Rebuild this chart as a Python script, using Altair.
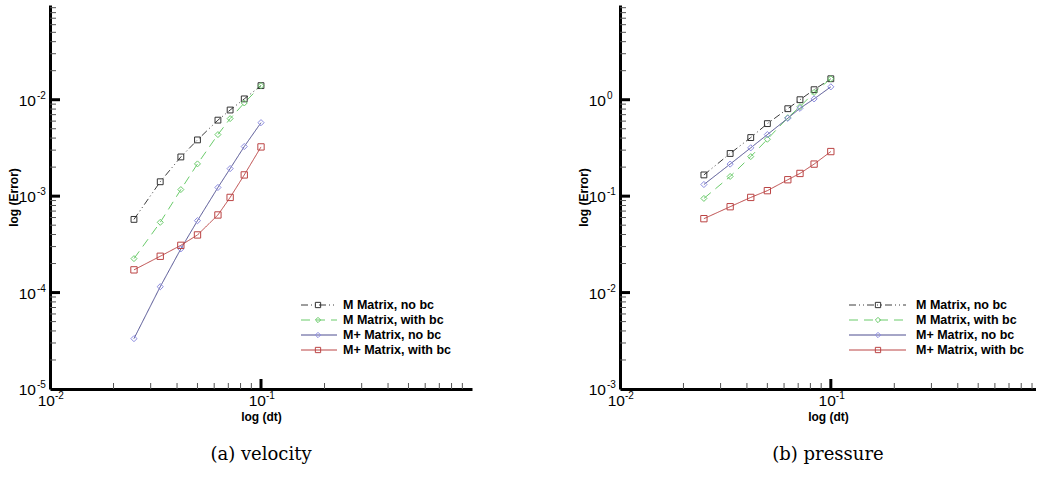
import altair as alt
import pandas as pd

series = ["M Matrix, no bc", "M Matrix, with bc", "M+ Matrix, no bc", "M+ Matrix, with bc"]
dt = [0.025, 0.0333, 0.0417, 0.05, 0.0625, 0.0714, 0.0833, 0.1]

vel_m_nobc = [5.74e-4, 1.41e-3, 2.55e-3, 3.83e-3, 6.14e-3, 7.82e-3, 1.02e-2, 1.40e-2]
vel_m_bc = [2.25e-4, 5.35e-4, 1.17e-3, 2.16e-3, 4.35e-3, 6.37e-3, 9.25e-3, 1.40e-2]
vel_mp_nobc = [3.33e-5, 1.15e-4, 2.84e-4, 5.57e-4, 1.23e-3, 1.93e-3, 3.27e-3, 5.78e-3]
vel_mp_bc = [1.72e-4, 2.38e-4, 3.09e-4, 3.96e-4, 6.38e-4, 9.70e-4, 1.66e-3, 3.24e-3]

pre_m_nobc = [0.166, 0.277, 0.405, 0.565, 0.807, 1.0, 1.27, 1.65]
pre_m_bc = [0.0947, 0.160, 0.257, 0.389, 0.651, 0.847, 1.19, 1.65]
pre_mp_nobc = [0.132, 0.215, 0.317, 0.435, 0.642, 0.815, 1.02, 1.36]
pre_mp_bc = [0.0584, 0.0777, 0.0970, 0.114, 0.148, 0.172, 0.215, 0.290]

line_colors = ["#3c3c3c", "#6acb6a", "#4d4d8f", "#bb4444"]
marker_colors = ["#333333", "#6acb6a", "#8c8ce0", "#bb4444"]
shapes = ["square", "diamond", "diamond", "square"]
vel_dashes = [[7, 3, 1, 3, 1, 3], [9, 6], [1, 0], [1, 0]]
pre_dashes = [[7, 3, 1, 3, 1, 3], [1, 0], [1, 0], [1, 0]]

# tick label values and their exponents
x_label_vals = [0.01, 0.1]
x_label_exp = ["-2", "-1"]
left_y_vals = [1e-5, 1e-4, 1e-3, 1e-2]
left_y_exp = ["-5", "-4", "-3", "-2"]
right_y_vals = [1e-3, 1e-2, 1e-1, 1.0]
right_y_exp = ["-3", "-2", "-1", "0"]

x_major = [0.1]
x_minor = [0.02, 0.03, 0.04, 0.05, 0.06, 0.07, 0.08, 0.09,
           0.2, 0.3, 0.4, 0.5, 0.6, 0.7, 0.8, 0.9]
mult = [2, 3, 4, 5, 6, 7, 8, 9]

FONT = "Liberation Sans"


def panel(vals, ydom, yvals, yexp, yminor, dashes, caption, width, xdom, leg):
    rows = []
    for s, v in zip(series, vals):
        for d, e in zip(dt, v):
            rows.append({"series": s, "dt": d, "err": e})
    df = pd.DataFrame(rows)
    H = 384
    xs = alt.Scale(type="log", domain=xdom, nice=False)
    ys = alt.Scale(type="log", domain=ydom, nice=False)
    xax = alt.Axis(labels=False, ticks=False, grid=False, domainWidth=3, domainColor="black",
                   title="log (dt)", titleFont=FONT, titleFontSize=12, titleFontWeight="bold",
                   titleColor="black", titlePadding=22)
    yax = alt.Axis(labels=False, ticks=False, grid=False, domainWidth=3, domainColor="black",
                   title="log (Error)", titleFont=FONT, titleFontSize=12, titleFontWeight="bold",
                   titleColor="black", titlePadding=30)
    color = alt.Color("series:N", scale=alt.Scale(domain=series, range=line_colors), legend=None)
    dash = alt.StrokeDash("series:N", scale=alt.Scale(domain=series, range=dashes), legend=None)
    shape = alt.Shape("series:N", scale=alt.Scale(domain=series, range=shapes), legend=None)
    stroke = alt.Stroke("series:N", scale=alt.Scale(domain=series, range=marker_colors), legend=None)
    size = alt.Size("series:N", scale=alt.Scale(domain=series, range=[34, 40, 40, 34]), legend=None)

    X = lambda f: alt.X(f, scale=xs, axis=xax)
    Y = lambda f: alt.Y(f, scale=ys, axis=yax)

    lines = alt.Chart(df).mark_line(strokeWidth=1).encode(
        x=X("dt:Q"), y=Y("err:Q"), color=color, strokeDash=dash, detail="series:N")
    pts = alt.Chart(df).mark_point(filled=False, strokeWidth=1, opacity=1).encode(
        x=X("dt:Q"), y=Y("err:Q"), shape=shape, stroke=stroke, size=size)

    ymaj_in = [v for v in yvals if v > ydom[0]]
    yt_min = alt.Chart(pd.DataFrame({"err": yminor})).mark_rule(strokeWidth=1, color="#555555").encode(
        y=Y("err:Q"), x=alt.value(0), x2=alt.value(6))
    yt_maj = alt.Chart(pd.DataFrame({"err": ymaj_in})).mark_rule(strokeWidth=3, color="black").encode(
        y=Y("err:Q"), x=alt.value(0), x2=alt.value(10))
    xt_min = alt.Chart(pd.DataFrame({"dt": [v for v in x_minor if v < xdom[1]]})).mark_rule(
        strokeWidth=1, color="#555555").encode(
        x=X("dt:Q"), y=alt.value(H), y2=alt.value(H - 6))
    xt_maj = alt.Chart(pd.DataFrame({"dt": x_major})).mark_rule(strokeWidth=3, color="black").encode(
        x=X("dt:Q"), y=alt.value(H), y2=alt.value(H - 10))

    # tick labels: "10" with a raised exponent
    ylab = pd.DataFrame({"err": yvals, "base": ["10"] * len(yvals), "exp": yexp})
    ylab_base = alt.Chart(ylab).mark_text(align="right", baseline="middle", font=FONT, fontSize=15.5,
                                          color="black", dy=1).encode(
        y=Y("err:Q"), x=alt.value(-14), text="base:N")
    ylab_exp = alt.Chart(ylab).mark_text(align="left", baseline="middle", font=FONT, fontSize=10,
                                         color="black", dy=-4).encode(
        y=Y("err:Q"), x=alt.value(-13), text="exp:N")
    xlab = pd.DataFrame({"dt": x_label_vals, "base": ["10"] * len(x_label_vals), "exp": x_label_exp})
    xlab_base = alt.Chart(xlab).mark_text(align="right", baseline="middle", font=FONT, fontSize=15.5,
                                          color="black", dx=5).encode(
        x=X("dt:Q"), y=alt.value(H + 12), text="base:N")
    xlab_exp = alt.Chart(xlab).mark_text(align="left", baseline="middle", font=FONT, fontSize=10,
                                         color="black", dx=5).encode(
        x=X("dt:Q"), y=alt.value(H + 7), text="exp:N")

    layers = [lines, pts, yt_min, yt_maj, xt_min, xt_maj, ylab_base, ylab_exp, xlab_base, xlab_exp]
    for i, s in enumerate(series):
        ldf = pd.DataFrame({"series": [s]})
        yy = alt.value(leg[4] + leg[5] * i)
        layers.append(alt.Chart(ldf).mark_rule(strokeWidth=1).encode(
            x=alt.value(leg[0]), x2=alt.value(leg[1]), y=yy, color=color, strokeDash=dash))
        layers.append(alt.Chart(ldf).mark_point(filled=False, size=28, strokeWidth=1, opacity=1).encode(
            x=alt.value(leg[2]), y=yy, shape=shape, stroke=stroke))
        layers.append(alt.Chart(ldf).mark_text(align="left", baseline="middle", font=FONT,
                                               fontWeight="bold", fontSize=12.5, color="black").encode(
            x=alt.value(leg[3]), y=yy, text="series:N"))

    return alt.layer(*layers).properties(
        width=width, height=H,
        title=alt.TitleParams(caption, orient="bottom", anchor="middle", font="DejaVu Serif",
                              fontSize=18, fontWeight="normal", color="black", offset=24))


left_ydom = [1e-5, 0.096]
left_minor = [m * 10 ** e for e in [-5, -4, -3, -2] for m in mult if m * 10 ** e < 0.096]
right_ydom = [1e-3, 9.6]
right_minor = [m * 10 ** e for e in [-3, -2, -1, 0] for m in mult if m * 10 ** e < 9.6]

left = panel([vel_m_nobc, vel_m_bc, vel_mp_nobc, vel_mp_bc], left_ydom, left_y_vals, left_y_exp,
             left_minor, vel_dashes, "(a)  velocity", 422, [0.01, 1.0], [251, 287, 268, 293, 300, 15])
right = panel([pre_m_nobc, pre_m_bc, pre_mp_nobc, pre_mp_bc], right_ydom, right_y_vals, right_y_exp,
              right_minor, pre_dashes, "(b)  pressure", 416, [0.01, 0.94], [229, 286, 258, 296, 300, 15])

chart = alt.hconcat(left, right, spacing=105).properties(
    padding={"left": 7, "top": 5, "right": 0, "bottom": 0}, background="white"
).configure_view(stroke=None)

chart.save("out.html", embed_options={"renderer": "svg", "actions": False})
